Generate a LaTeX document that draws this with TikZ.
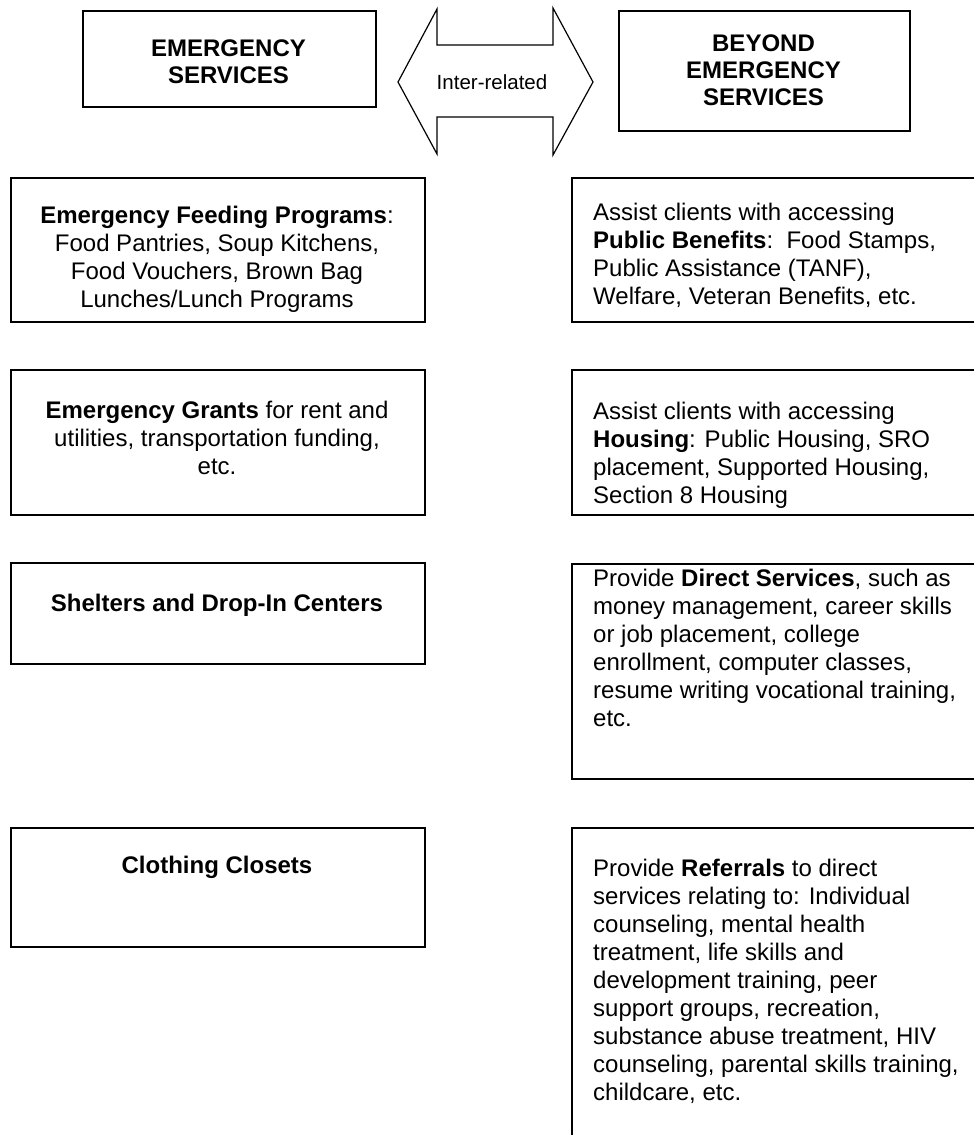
\documentclass[tikz,border=0pt]{standalone}
\usepackage{fontspec}
\setmainfont{Liberation Sans}
\begin{document}
\begin{tikzpicture}[x=1pt, y=-1pt,
  panel/.style={draw, line width=1.8pt, inner sep=0pt, anchor=north west},
  head/.style={inner sep=0pt, align=center, font=\fontsize{24}{27}\selectfont\bfseries},
  centred/.style={inner sep=0pt, anchor=north, align=center, font=\fontsize{24}{28}\selectfont},
  flush/.style={inner sep=0pt, anchor=north west, align=left, font=\fontsize{24}{28}\selectfont},
  linkarrow/.style={draw, line width=1.2pt, line join=miter}
]
\useasboundingbox (0,0) rectangle (974,1135);
\clip (0,0) rectangle (974,1135);

% column headings
\node[panel, minimum width=293, minimum height=96] (es) at (82,10) {};
\node[head] (est) at (228.5,62) {EMERGENCY\\SERVICES};
\node[panel, minimum width=291, minimum height=120] (bes) at (618,10) {};
\node[head] (best) at (763.5,70) {BEYOND\\EMERGENCY\\SERVICES};

% two-headed block arrow between the headings
\draw[linkarrow] (398,82) -- (437,9) -- (437,45) -- (553,45) -- (553,8)
  -- (593,82) -- (553,155) -- (553,117) -- (437,117) -- (437,154) -- cycle;
\node[inner sep=0pt, font=\fontsize{20.5}{24}\selectfont] (rel) at (492,82) {Inter-related};

% emergency services column
\node[panel, minimum width=414, minimum height=144] (l1) at (10,177) {};
\node[centred] (l1t) at (217,206) {\textbf{Emergency Feeding Programs}:\\Food Pantries, Soup Kitchens,\\Food Vouchers, Brown Bag\\Lunches/Lunch Programs};
\node[panel, minimum width=414, minimum height=145] (l2) at (10,369) {};
\node[centred] (l2t) at (217,401) {\textbf{Emergency Grants} for rent and\\utilities, transportation funding,\\etc.};
\node[panel, minimum width=414, minimum height=101] (l3) at (10,562) {};
\node[centred] (l3t) at (217,594) {\textbf{Shelters and Drop-In Centers}};
\node[panel, minimum width=414, minimum height=119] (l4) at (10,827) {};
\node[centred] (l4t) at (217,856) {\textbf{Clothing Closets}};

% beyond emergency services column (runs past the page edge)
\node[panel, minimum width=420, minimum height=144] (r1) at (571,177) {};
\node[flush] (r1t) at (593,203) {Assist clients with accessing\\\textbf{Public Benefits}:\ \ Food Stamps,\\Public Assistance (TANF),\\Welfare, Veteran Benefits, etc.};
\node[panel, minimum width=420, minimum height=145] (r2) at (571,369) {};
\node[flush] (r2t) at (593,402) {Assist clients with accessing\\\textbf{Housing}: Public Housing, SRO\\placement, Supported Housing,\\Section 8 Housing};
\node[panel, minimum width=420, minimum height=215] (r3) at (571,563) {};
\node[flush] (r3t) at (593,569) {Provide \textbf{Direct Services}, such as\\money management, career skills\\or job placement, college\\enrollment, computer classes,\\resume writing vocational training,\\etc.};
\node[panel, minimum width=420, minimum height=330] (r4) at (571,827) {};
\node[flush] (r4t) at (593,859) {Provide \textbf{Referrals} to direct\\services relating to: Individual\\counseling, mental health\\treatment, life skills and\\development training, peer\\support groups, recreation,\\substance abuse treatment, HIV\\counseling, parental skills training,\\childcare, etc.};
\end{tikzpicture}
\end{document}
